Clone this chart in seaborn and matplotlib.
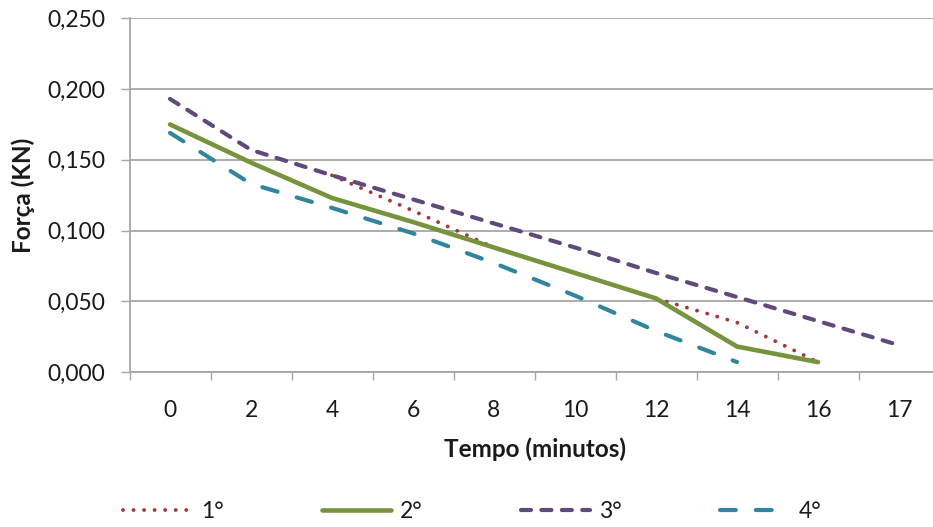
import numpy as np
import pandas as pd
import matplotlib
matplotlib.use("Agg")
import matplotlib.pyplot as plt
import seaborn as sns
from matplotlib.ticker import FuncFormatter, FixedLocator

# ---- data ----
tempo = ["0", "2", "4", "6", "8", "10", "12", "14", "16", "17"]
serie_1 = [None, None, 0.139, 0.114, 0.088, 0.070, 0.052, 0.035, 0.007, None]
serie_2 = [0.175, 0.148, 0.123, 0.106, 0.088, 0.070, 0.052, 0.018, 0.007, None]
serie_3 = [0.193, 0.157, 0.139, 0.122, 0.105, 0.088, 0.070, 0.053, 0.036, 0.019]
serie_4 = [0.169, 0.133, 0.116, 0.098, 0.077, 0.054, 0.029, 0.007, None, None]
labels = ["1°", "2°", "3°", "4°"]
colors = ["#A03A3A", "#77933C", "#604A7B", "#31859C"]

sns.set_theme(style="white")
plt.rcParams["font.family"] = ["Lato", "DejaVu Sans"]

fig = plt.figure(figsize=(9.33, 5.27), dpi=100)
ax = fig.add_axes([129.5 / 933, 155 / 527, 810 / 933, 353.7 / 527])

idx = np.arange(len(tempo))
series = [serie_1, serie_2, serie_3, serie_4]
widths = [2.8, 3.3, 3.0, 3.0]
dash_styles = [(0.01, 2.7), None, (2.4, 2.5), (3.8, 4.8)]

for vals, lab, col, lw, ds in zip(series, labels, colors, widths, dash_styles):
    df = pd.DataFrame({"x": idx, "y": np.array(vals, dtype=float)}).dropna()
    sns.lineplot(data=df, x="x", y="y", color=col, lw=lw, ax=ax, label=lab)
    ln = ax.lines[-1]
    ln.set_solid_capstyle("round")
    ln.set_dash_capstyle("round")
    if ds is not None:
        ln.set_dashes(ds)

ax.set_xlim(-0.5, len(tempo) - 0.5)
ax.set_ylim(0, 0.25)
ax.set_yticks(np.arange(0, 0.2501, 0.05))
ax.yaxis.set_major_formatter(FuncFormatter(lambda v, p: f"{v:.3f}".replace(".", ",")))
ax.set_xticks(idx)
ax.set_xticklabels(tempo)
ax.xaxis.set_minor_locator(FixedLocator(np.arange(-0.5, len(tempo), 1.0)))

gray = "#A6A6A6"
ax.grid(axis="y", color=gray, lw=1.3)
ax.grid(axis="x", visible=False)
for s in ["top", "right"]:
    ax.spines[s].set_visible(False)
for s in ["left", "bottom"]:
    ax.spines[s].set_color(gray)
    ax.spines[s].set_linewidth(1.3)

ax.tick_params(axis="y", which="major", length=6.5, width=1.0, color=gray,
               pad=11, labelsize=16.5, labelcolor="#1a1a1a", left=True)
ax.tick_params(axis="x", which="major", length=0, pad=20, labelsize=16.5,
               labelcolor="#1a1a1a")
ax.tick_params(axis="x", which="minor", length=6, width=1.0, color=gray,
               bottom=True)

ax.set_xlabel("Tempo (minutos)", fontsize=17.5, fontweight="bold", labelpad=12,
              color="#1a1a1a")
ax.set_ylabel("Força (KN)", fontsize=17.5, fontweight="bold", labelpad=9,
              color="#1a1a1a")

leg = ax.legend(loc="center", bbox_to_anchor=(472 / 933, 15 / 527),
                bbox_transform=fig.transFigure, ncol=4, frameon=False,
                fontsize=16.5, handlelength=3.0, columnspacing=4.3,
                handletextpad=0.4)
for t in leg.get_texts():
    t.set_color("#1a1a1a")

fig.savefig("out.png", dpi=100)
